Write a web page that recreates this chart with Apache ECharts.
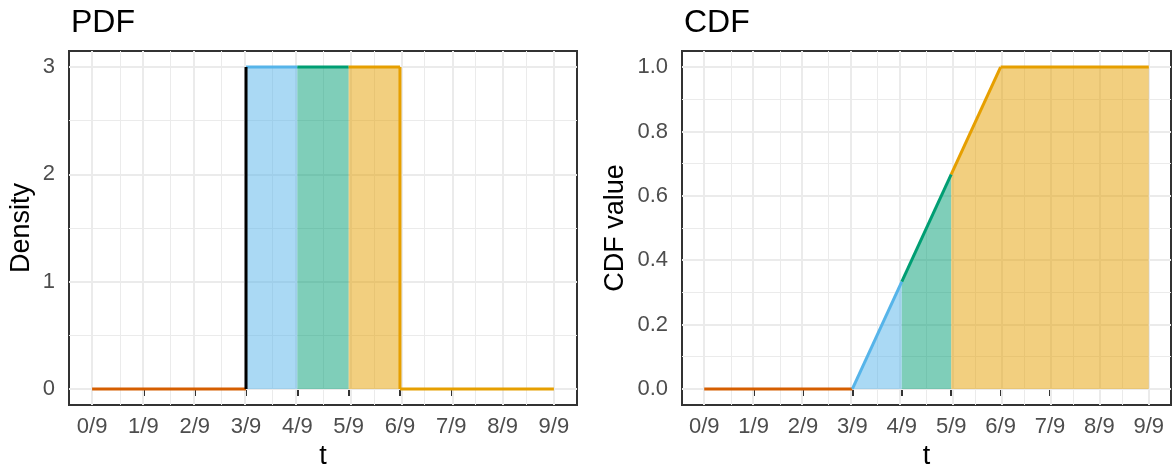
<!DOCTYPE html>
<html><head><meta charset="utf-8">
<script src="https://cdn.jsdelivr.net/npm/echarts@6/dist/echarts.min.js"></script>
<style>html,body{margin:0;padding:0;background:#fff}#c{width:1172px;height:470px}</style>
</head><body><div id="c"></div>
<script>
// ---- data ----
const breaks = [0, 3/9, 4/9, 5/9, 6/9, 9/9];
const pdfDensity = [0, 3, 3, 3, 0];
const cdfAtBreaks = [0, 0, 1/3, 2/3, 1, 1];
const segColors = ['#D55E00', '#56B4E9', '#009E73', '#E69F00', '#E69F00'];
const jumpColors = ['#000000', '#E69F00'];
const xTicks = [0, 1/9, 2/9, 3/9, 4/9, 5/9, 6/9, 7/9, 8/9, 9/9];
const xTickLabels = ['0/9','1/9','2/9','3/9','4/9','5/9','6/9','7/9','8/9','9/9'];
const xMinor = [1/18, 3/18, 5/18, 7/18, 9/18, 11/18, 13/18, 15/18, 17/18];
const pdfYTicks = [0, 1, 2, 3];
const pdfYMinor = [0.5, 1.5, 2.5];
const cdfYTicks = [0, 0.2, 0.4, 0.6, 0.8, 1.0];
const cdfYMinor = [0.1, 0.3, 0.5, 0.7, 0.9];

const FONT = "'Liberation Sans', Arial, Helvetica, sans-serif";
const GRIDCOL = '#EBEBEB';

function fade(hex, a) {
  const r = parseInt(hex.slice(1,3),16), g = parseInt(hex.slice(3,5),16), b = parseInt(hex.slice(5,7),16);
  return `rgba(${r},${g},${b},${a})`;
}

function gridLinesSeries(idx, yMajor, yMinor) {
  const d = [];
  xMinor.forEach(v => d.push({xAxis: v, lineStyle: {color: GRIDCOL, width: 1, type: 'solid'}}));
  yMinor.forEach(v => d.push({yAxis: v, lineStyle: {color: GRIDCOL, width: 1, type: 'solid'}}));
  xTicks.forEach(v => d.push({xAxis: v, lineStyle: {color: GRIDCOL, width: 2, type: 'solid'}}));
  yMajor.forEach(v => d.push({yAxis: v, lineStyle: {color: GRIDCOL, width: 2, type: 'solid'}}));
  return {
    type: 'line', xAxisIndex: idx, yAxisIndex: idx, data: [[0, 0]], symbol: 'none',
    lineStyle: {opacity: 0}, z: 1, silent: true,
    markLine: {silent: true, z: 1, zlevel: 0, symbol: 'none', animation: false, label: {show: false}, data: d}
  };
}

function lineSeries(idx, pts, color, z) {
  return {
    type: 'line', xAxisIndex: idx, yAxisIndex: idx, data: pts, symbol: 'none',
    lineStyle: {color: color, width: 3, cap: 'butt', join: 'miter'}, z: z || 4, silent: true
  };
}
function fillSeries(idx, pts, color) {
  return {
    type: 'line', xAxisIndex: idx, yAxisIndex: idx, data: pts, symbol: 'none',
    lineStyle: {width: 0, opacity: 0}, areaStyle: {color: fade(color, 0.5), opacity: 1, origin: 0}, z: 2, silent: true
  };
}

const series = [];
series.push(gridLinesSeries(0, pdfYTicks, pdfYMinor));
series.push(gridLinesSeries(1, cdfYTicks, cdfYMinor));

// PDF fills (non-zero density segments)
for (let i = 0; i < pdfDensity.length; i++) {
  if (pdfDensity[i] > 0) {
    series.push(fillSeries(0, [[breaks[i], pdfDensity[i]], [breaks[i+1], pdfDensity[i]]], segColors[i]));
  }
}
// PDF horizontal lines
for (let i = 0; i < pdfDensity.length; i++) {
  series.push(lineSeries(0, [[breaks[i], pdfDensity[i]], [breaks[i+1], pdfDensity[i]]], segColors[i]));
}
// PDF jumps
let j = 0;
for (let i = 1; i < pdfDensity.length; i++) {
  if (pdfDensity[i] !== pdfDensity[i-1]) {
    series.push(lineSeries(0, [[breaks[i], pdfDensity[i-1]], [breaks[i], pdfDensity[i]]], jumpColors[j++], 5));
  }
}

// CDF fills: group consecutive segments with same colour, skip flat-zero start
let start = 1;
for (let i = 1; i < segColors.length; i++) {
  const last = (i === segColors.length - 1) || segColors[i+1] !== segColors[i];
  if (last) {
    const pts = [];
    for (let k = start; k <= i + 1; k++) pts.push([breaks[k], cdfAtBreaks[k]]);
    series.push(fillSeries(1, pts, segColors[i]));
    start = i + 1;
  }
}
// CDF lines
for (let i = 0; i < segColors.length; i++) {
  series.push(lineSeries(1, [[breaks[i], cdfAtBreaks[i]], [breaks[i+1], cdfAtBreaks[i+1]]], segColors[i]));
}

function xAxis(idx) {
  return {
    type: 'value', gridIndex: idx, min: -0.05, max: 1.05,
    name: 't', nameLocation: 'middle', nameGap: 38,
    nameTextStyle: {fontFamily: FONT, fontSize: 27, color: '#000'},
    axisLine: {show: false},
    axisTick: {show: true, customValues: xTicks, length: 7, lineStyle: {color: '#333', width: 2}},
    axisLabel: {customValues: xTicks, fontFamily: FONT, fontSize: 22, color: '#4D4D4D', margin: 11,
      formatter: v => xTickLabels[xTicks.findIndex(t => Math.abs(t - v) < 1e-9)]},
    splitLine: {show: false}
  };
}
function yAxis(idx, min, max, ticks, name, gap, fmt) {
  return {
    type: 'value', gridIndex: idx, min: min, max: max,
    name: name, nameLocation: 'middle', nameGap: gap, nameRotate: 90,
    nameTextStyle: {fontFamily: FONT, fontSize: 27, color: '#000'},
    axisLine: {show: false},
    axisTick: {show: true, customValues: ticks, length: 7, lineStyle: {color: '#333', width: 2}},
    axisLabel: {customValues: ticks, fontFamily: FONT, fontSize: 22, color: '#4D4D4D', margin: 14, formatter: fmt},
    splitLine: {show: false}
  };
}

const option = {
  animation: false,
  backgroundColor: '#fff',
  title: [
    {text: 'PDF', left: 66, top: 2, textStyle: {fontFamily: FONT, fontSize: 32, fontWeight: 'normal', color: '#000'}},
    {text: 'CDF', left: 679, top: 2, textStyle: {fontFamily: FONT, fontSize: 32, fontWeight: 'normal', color: '#000'}}
  ],
  grid: [
    {left: 69, top: 51, width: 508, height: 354, show: true, borderColor: '#333', borderWidth: 2,
     backgroundColor: 'transparent', containLabel: false, outerBoundsMode: 'none'},
    {left: 682, top: 51, width: 489, height: 354, show: true, borderColor: '#333', borderWidth: 2,
     backgroundColor: 'transparent', containLabel: false, outerBoundsMode: 'none'}
  ],
  xAxis: [xAxis(0), xAxis(1)],
  yAxis: [
    yAxis(0, -0.15, 3.15, pdfYTicks, 'Density', 34, v => String(v)),
    yAxis(1, -0.05, 1.05, cdfYTicks, 'CDF value', 53, v => v.toFixed(1))
  ],
  series: series
};

const chart = echarts.init(document.getElementById('c'), null, {renderer: 'canvas'});
chart.setOption(option);
</script>
</body></html>
